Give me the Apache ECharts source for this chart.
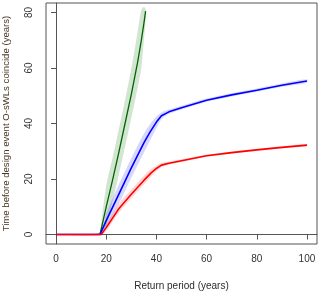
<!DOCTYPE html>
<html><head><meta charset="utf-8">
<script src="https://cdn.jsdelivr.net/npm/echarts@6/dist/echarts.min.js"></script>
<style>html,body{margin:0;padding:0;background:#fff}#c{width:320px;height:292px}</style>
</head><body><div id="c"></div>
<script>
var xTicks = [0, 20, 40, 60, 80, 100];
var yTicks = [0, 20, 40, 60, 80];

var redX  = [0, 18, 20, 25, 30, 35, 38, 40, 42, 45, 50, 60, 70, 80, 90, 100];
var redY  = [0, 0, 2.5, 9.3, 14.5, 19.5, 22.3, 23.8, 25, 25.7, 26.6, 28.4, 29.5, 30.5, 31.4, 32.2];
var redLo = [0, 0, 1.3, 7.8, 13, 18, 21, 22.8, 24.2, 25.1, 26.1, 28.0, 29.1, 30.1, 31.0, 31.8];
var redHi = [0, 0.5, 3.8, 11, 16.2, 21.2, 23.7, 24.9, 25.8, 26.3, 27.1, 28.8, 29.9, 30.9, 31.8, 32.6];

var blueX  = [0, 17.5, 20, 25, 30, 35, 37.5, 40, 42, 45, 50, 60, 70, 80, 90, 100];
var blueY  = [0, 0, 5, 14.5, 24, 33, 37, 40.5, 42.8, 44.2, 45.7, 48.4, 50.3, 52, 53.8, 55.3];
var blueLo = [0, 0, 2.8, 11, 20.5, 29.5, 34, 38.3, 41.5, 43.4, 45.0, 47.8, 49.7, 51.4, 53.2, 54.7];
var blueHi = [0, 0.8, 7.5, 18, 27.5, 36.3, 39.8, 42.5, 44, 45, 46.4, 49.0, 50.9, 52.6, 54.4, 55.9];

var greenX  = [17.5, 20, 22.5, 25, 27.5, 30, 32.5, 34, 35, 35.7];
var greenY  = [0, 10, 19.5, 29.5, 40, 50.5, 62, 70, 76, 80.5];
var greenLo = [0, 3, 11.9, 21.5, 31.6, 42, 52.8, 60, 70, 77];
var greenHi = [0.5, 17.6, 27.5, 37.9, 48.4, 59.7, 73, 81, 82, 81.2];

function pts(xs, ys) { return xs.map(function (x, i) { return [x, ys[i]]; }); }
function bandData(xs, lo, hi) { return xs.map(function (x, i) { return [x, lo[i], hi[i]]; }); }

function bandSeries(xs, lo, hi, color) {
  var d = bandData(xs, lo, hi);
  return {
    type: 'custom', silent: true, z: 1,
    data: d,
    encode: { x: 0, y: [1, 2] },
    renderItem: function (params, api) {
      if (params.dataIndex !== 0) return null;
      var top = [], bot = [];
      for (var i = 0; i < d.length; i++) {
        top.push(api.coord([d[i][0], d[i][2]]));
        bot.push(api.coord([d[i][0], d[i][1]]));
      }
      return { type: 'polygon', shape: { points: top.concat(bot.reverse()), smooth: 0.3 }, style: { fill: color } };
    }
  };
}
function lineSeries(xs, ys, color, w, z) {
  return { type: 'line', data: pts(xs, ys), symbol: 'none', z: z, silent: true,
    lineStyle: { color: color, width: w } };
}

var chart = echarts.init(document.getElementById('c'), null, { renderer: 'canvas' });
var textCol = '#333';
chart.setOption({
  animation: false,
  textStyle: { fontFamily: 'Liberation Sans, Arial, sans-serif' },
  grid: { left: 46, top: 3, width: 271, height: 241, show: true, borderColor: '#555', borderWidth: 1,
          containLabel: false, outerBoundsMode: 'none' },
  xAxis: {
    type: 'value', min: -4, max: 104,
    name: 'Return period (years)', nameLocation: 'middle', nameGap: 37,
    nameTextStyle: { color: '#2b2b2b', fontSize: 10, fontFamily: 'Liberation Sans' },
    axisLine: { show: true, lineStyle: { color: '#555' } },
    axisTick: { show: true, length: 5, lineStyle: { color: '#555' }, customValues: xTicks },
    axisLabel: { color: textCol, fontSize: 10, margin: 10, customValues: xTicks },
    splitLine: { show: false }
  },
  yAxis: {
    type: 'value', min: -3.4, max: 83.4,
    name: 'Time before design event O-sWLs coincide (years)', nameLocation: 'middle', nameGap: 35,
    nameTextStyle: { color: '#4a3622', fontSize: 9.6, fontFamily: 'Liberation Sans' },
    axisLine: { show: true, lineStyle: { color: '#555' } },
    axisTick: { show: true, length: 5, lineStyle: { color: '#555' }, customValues: yTicks },
    axisLabel: { color: textCol, fontSize: 10, margin: 12, rotate: 90, customValues: yTicks },
    splitLine: { show: false }
  },
  series: [
    bandSeries(greenX, greenLo, greenHi, 'rgba(0,110,0,0.18)'),
    bandSeries(blueX, blueLo, blueHi, 'rgba(0,0,255,0.16)'),
    bandSeries(redX, redLo, redHi, 'rgba(255,0,0,0.16)'),
    lineSeries(greenX, greenY, '#006400', 1.3, 3),
    lineSeries(blueX, blueY, '#0000ff', 1.6, 4),
    lineSeries(redX, redY, '#ff0000', 1.6, 5)
  ]
});
</script></body></html>
